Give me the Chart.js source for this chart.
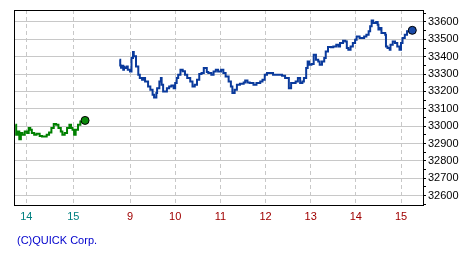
<!DOCTYPE html>
<html>
<head>
<meta charset="utf-8">
<script src="https://cdn.jsdelivr.net/npm/chart.js@4.4.1/dist/chart.umd.min.js"></script>
<style>
body{margin:0;background:#fff;}
#container{width:475px;height:260px;}
</style>
</head>
<body>
<div id="container"><canvas id="canvas" width="475" height="260"></canvas></div>
<script>
// 前日 (previous session, tail end)
var prevTimes = ["13:46","13:47","13:49","13:51","13:53","13:55","13:58","14:01","14:03","14:05",
    "14:07","14:10","14:13","14:17","14:20","14:22","14:26","14:29","14:32","14:35",
    "14:38","14:41","14:44","14:46","14:49","14:52","14:55","14:57","14:59","15:01",
    "15:03","15:06","15:09","15:15"];
var prevValues = [33008,32950,32969,32925,32960,32950,32969,32960,32989,32979,
    32960,32950,32956,32944,32940,32940,32950,32963,32989,33013,
    33008,32989,32969,32950,32960,32989,33008,32989,32979,32950,
    32979,33008,33027,33033];

// 当日 (today's session)
var todayTimes = ["8:46","8:47","8:48","8:49","8:51","8:52","8:53","8:56","8:57","9:00",
    "9:02","9:04","9:05","9:08","9:11","9:13","9:16","9:18","9:20","9:24",
    "9:27","9:30","9:32","9:35","9:36","9:39","9:41","9:42","9:44","9:49",
    "9:52","9:55","9:58","10:00","10:02","10:04","10:07","10:10","10:13","10:16",
    "10:20","10:23","10:26","10:29","10:32","10:35","10:38","10:42","10:44","10:48",
    "10:51","10:54","10:57","11:01","11:04","11:07","11:11","11:14","11:16","11:19",
    "11:22","11:26","11:31","11:33","11:36","11:39","11:44","11:48","11:53","11:56",
    "11:59","12:02","12:06","12:10","12:15","12:22","12:26","12:30","12:31","12:34",
    "12:37","12:40","12:43","12:46","12:49","12:51","12:54","12:56","12:58","13:01",
    "13:04","13:07","13:10","13:12","13:15","13:18","13:20","13:23","13:27","13:30",
    "13:34","13:37","13:39","13:43","13:46","13:48","13:50","13:53","13:56","13:59",
    "14:01","14:05","14:08","14:11","14:14","14:17","14:19","14:21","14:23","14:27",
    "14:29","14:30","14:32","14:34","14:37","14:39","14:40","14:42","14:45","14:46",
    "14:49","14:52","14:55","14:58","15:00","15:02","15:05","15:08","15:11","15:15"];
var todayValues = [33383,33350,33336,33348,33325,33342,33335,33344,33325,33315,
    33392,33427,33402,33344,33296,33277,33267,33277,33257,33229,
    33210,33181,33165,33191,33219,33257,33277,33238,33200,33219,
    33229,33234,33219,33248,33277,33296,33325,33316,33296,33277,
    33257,33229,33238,33267,33300,33306,33335,33312,33306,33296,
    33315,33325,33315,33325,33306,33286,33257,33229,33191,33210,
    33238,33244,33252,33263,33252,33248,33238,33248,33257,33267,
    33296,33306,33306,33296,33296,33290,33277,33277,33219,33248,
    33248,33257,33277,33248,33257,33277,33335,33373,33354,33358,
    33411,33383,33373,33354,33373,33392,33430,33456,33454,33459,
    33469,33459,33479,33492,33488,33450,33440,33459,33479,33498,
    33517,33508,33508,33517,33527,33546,33575,33608,33594,33600,
    33584,33556,33566,33537,33537,33527,33459,33450,33440,33469,
    33488,33479,33459,33440,33479,33508,33527,33546,33556,33552];

var prevTickTimes = ["14:00","15:00"];
var prevTickLabels = ["14","15"];
var todayTickTimes = ["9:00","10:00","11:00","12:00","13:00","14:00","15:00"];
var todayTickLabels = ["9","10","11","12","13","14","15"];

function toMin(s){
    var p = s.split(':');
    return parseInt(p[0], 10) * 60 + parseInt(p[1], 10);
}
// 前日分は9時の左側に少し詰めて置く
function prevPos(s){ return 464.7 + (toMin(s) - 900) * 1.04; }
function todayPos(s){ return toMin(s); }

function points(times, values, pos){
    return times.map(function(t, i){ return {x: pos(t), y: values[i]}; });
}

var tickPos = prevTickTimes.map(prevPos).concat(todayTickTimes.map(todayPos));
var tickLabels = prevTickLabels.concat(todayTickLabels);

var frame = {
    id: 'frame',
    afterDraw: function(chart){
        var a = chart.chartArea, ctx = chart.ctx;
        ctx.save();
        ctx.strokeStyle = '#000';
        ctx.lineWidth = 1;
        ctx.strokeRect(Math.round(a.left) + 0.5, Math.round(a.top) + 0.5,
            Math.round(a.right - a.left), Math.round(a.bottom - a.top));
        ctx.font = '11px "Liberation Sans", Arial, sans-serif';
        ctx.fillStyle = '#0000cc';
        ctx.textBaseline = 'middle';
        ctx.fillText('(C)QUICK Corp.', 17, 241);
        ctx.restore();
    }
};

function lastDot(n){
    return function(ctx){ return ctx.dataIndex === n - 1 ? 4 : 0; };
}

var config = {
    type: 'line',
    data: {
        datasets: [{
            data: points(prevTimes, prevValues, prevPos),
            borderColor: '#008000',
            borderWidth: 2,
            stepped: true,
            pointRadius: lastDot(prevValues.length),
            pointBackgroundColor: '#0a8a0a',
            pointBorderColor: '#000',
            pointBorderWidth: 1
        }, {
            data: points(todayTimes, todayValues, todayPos),
            borderColor: '#0a3a9c',
            borderWidth: 2,
            stepped: true,
            pointRadius: lastDot(todayValues.length),
            pointBackgroundColor: '#1a4aa8',
            pointBorderColor: '#000',
            pointBorderWidth: 1
        }]
    },
    options: {
        responsive: false,
        animation: false,
        layout: { padding: { left: 14, top: 10, right: 0, bottom: 0 } },
        plugins: { legend: { display: false }, tooltip: { enabled: false } },
        scales: {
            x: {
                type: 'linear',
                min: 385.9,
                max: 929.2,
                afterBuildTicks: function(scale){
                    scale.ticks = tickPos.map(function(v){ return {value: v}; });
                },
                afterFit: function(scale){ scale.height = 55; },
                ticks: {
                    autoSkip: false,
                    maxRotation: 0,
                    padding: 5,
                    font: { family: '"Liberation Sans", Arial, sans-serif', size: 11 },
                    color: function(ctx){ return ctx.index < 2 ? '#008080' : '#a00000'; },
                    callback: function(v, i){ return tickLabels[i]; }
                },
                grid: { color: '#c8c8c8', drawTicks: false },
                border: { display: true, color: '#000', dash: [4, 3] }
            },
            y: {
                position: 'right',
                min: 32546,
                max: 33669,
                bounds: 'data',
                afterBuildTicks: function(scale){
                    var t = [];
                    for (var v = 32550; v <= 33650; v += 50) t.push({value: v});
                    scale.ticks = t;
                },
                afterFit: function(scale){ scale.width = 52; },
                ticks: {
                    autoSkip: false,
                    padding: 2,
                    color: '#000',
                    font: { family: '"Liberation Sans", Arial, sans-serif', size: 11 },
                    callback: function(v){ return v % 100 === 0 ? String(v) : ''; }
                },
                grid: {
                    color: function(ctx){
                        return ctx.tick && ctx.tick.value % 100 === 0 ? '#c8c8c8' : 'rgba(0,0,0,0)';
                    },
                    tickColor: '#000',
                    tickLength: 3
                },
                border: { display: true, color: '#000' }
            }
        }
    },
    plugins: [frame]
};

var context = document.getElementById('canvas').getContext('2d');
window.myLine = new Chart(context, config);
</script>
</body>
</html>
